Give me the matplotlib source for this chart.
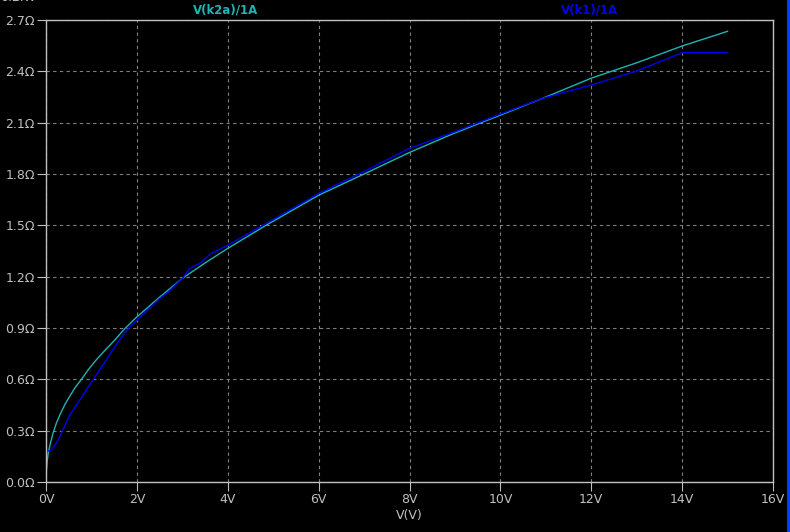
import matplotlib
matplotlib.use("Agg")
import matplotlib.pyplot as plt
from matplotlib.lines import Line2D

# V(k2a)/1A trace (teal)
k2a_v = [0, 0.01, 0.03, 0.05, 0.1, 0.16, 0.23, 0.31, 0.42, 0.53, 0.65, 0.78, 0.94, 1.11,
         1.3, 1.48, 1.73, 2.0, 2.5, 3.0, 3.5, 4.0, 4.84, 6.0, 7.0, 8.0, 9.0, 10.0, 11.0,
         12.0, 13.0, 14.0, 15.0]
k2a_r = [0, 0.07, 0.13, 0.17, 0.23, 0.29, 0.345, 0.395, 0.455, 0.505, 0.555, 0.60, 0.66,
         0.715, 0.77, 0.82, 0.895, 0.965, 1.08, 1.19, 1.28, 1.365, 1.50, 1.676, 1.80, 1.926,
         2.04, 2.144, 2.25, 2.36, 2.45, 2.548, 2.634]

# V(k1)/1A trace (blue)
k1_v = [0, 0.10, 0.23, 0.34, 0.53, 0.75, 0.93, 1.04, 1.33, 1.62, 1.84, 2.0, 2.3, 2.5,
        2.65, 3.01, 3.16, 3.38, 3.63, 4.0, 4.84, 6.0, 7.0, 8.0, 9.0, 10.0, 10.9, 12.0,
        12.98, 14.0, 15.0]
k1_r = [0.18, 0.183, 0.228, 0.287, 0.394, 0.481, 0.556, 0.598, 0.715, 0.832, 0.906, 0.945,
        1.02, 1.072, 1.10, 1.193, 1.248, 1.277, 1.335, 1.384, 1.51, 1.686, 1.815, 1.95, 2.047,
        2.15, 2.24, 2.32, 2.40, 2.509, 2.509]

x_ticks = [0, 2, 4, 6, 8, 10, 12, 14, 16]
x_labels = ["0V", "2V", "4V", "6V", "8V", "10V", "12V", "14V", "16V"]
y_ticks = [0.0, 0.3, 0.6, 0.9, 1.2, 1.5, 1.8, 2.1, 2.4, 2.7]
y_labels = ["%.1f\u03a9" % t for t in y_ticks]

teal = "#1cb4b4"
blue = "#0000f0"
gray = "#c0c0c0"

fig = plt.figure(figsize=(7.9, 5.32), dpi=100, facecolor="black")
ax = fig.add_axes([46/790, 50/532, 727/790, 462/532], facecolor="black")

ax.plot(k2a_v, k2a_r, color=teal, lw=1.0)
ax.plot(k1_v, k1_r, color=blue, lw=1.0)

ax.set_xlim(0, 16)
ax.set_ylim(0, 2.7)
ax.set_xticks(x_ticks)
ax.set_xticklabels(x_labels)
ax.set_yticks(y_ticks)
ax.set_yticklabels(y_labels)
ax.tick_params(colors=gray, labelcolor=gray, labelsize=9, length=6.5, width=0.8,
               direction="out", pad=1.5)
for s in ax.spines.values():
    s.set_color(gray)
    s.set_linewidth(1.0)
ax.grid(True, color="#808080", lw=0.8, linestyle=(0, (3, 3)))

ax.set_xlabel("V(V)", color=gray, fontsize=9, labelpad=2)

# trace labels on top
fig.text(226/790, 1 - 10/532, "V(k2a)/1A", color=teal, fontsize=8.5,
         ha="center", va="center", fontweight="bold")
fig.text(590/790, 1 - 10/532, "V(k1)/1A", color=blue, fontsize=8.5,
         ha="center", va="center", fontweight="bold")
# partly scrolled-off scale label, as in the screenshot
fig.text(0.0, 1.004, "0.2KV", color=gray, fontsize=9, ha="left", va="center")

# window border on right
fig.add_artist(Line2D([787.5/790, 787.5/790], [0, 1], color="#0040ff", lw=2.2,
                      transform=fig.transFigure))

fig.savefig("out.png", dpi=100, facecolor="black")
